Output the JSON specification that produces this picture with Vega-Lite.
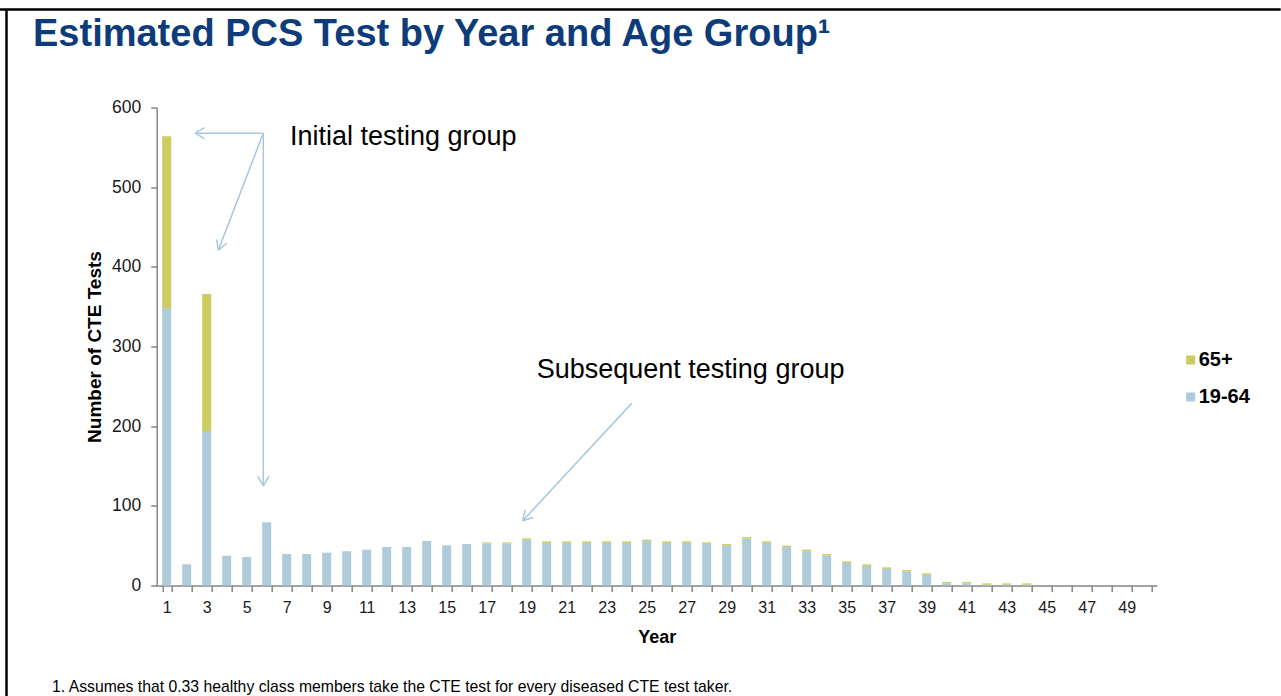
{
  "$schema": "https://vega.github.io/schema/vega-lite/v6.json",
  "width": 1000,
  "height": 478,
  "autosize": {"type": "none"},
  "padding": {"left": 156.7, "top": 107.5, "right": 124.3, "bottom": 110.5},
  "background": "white",
  "title": {
    "text": "Estimated PCS Test by Year and Age Group¹",
    "anchor": "start",
    "frame": "group",
    "dx": -123.7,
    "offset": -76,
    "baseline": "alphabetic",
    "font": "Liberation Sans",
    "fontSize": 38,
    "fontWeight": "bold",
    "color": "#0e3c7b"
  },
  "datasets": {
    "tests": [
      {"year": 1, "group": "19-64", "value": 348}, {"year": 1, "group": "65+", "value": 216},
      {"year": 2, "group": "19-64", "value": 26.6}, {"year": 2, "group": "65+", "value": 0},
      {"year": 3, "group": "19-64", "value": 194}, {"year": 3, "group": "65+", "value": 172},
      {"year": 4, "group": "19-64", "value": 37.4}, {"year": 4, "group": "65+", "value": 0},
      {"year": 5, "group": "19-64", "value": 35.8}, {"year": 5, "group": "65+", "value": 0},
      {"year": 6, "group": "19-64", "value": 79.3}, {"year": 6, "group": "65+", "value": 0},
      {"year": 7, "group": "19-64", "value": 39.5}, {"year": 7, "group": "65+", "value": 0},
      {"year": 8, "group": "19-64", "value": 39.5}, {"year": 8, "group": "65+", "value": 0},
      {"year": 9, "group": "19-64", "value": 41.2}, {"year": 9, "group": "65+", "value": 0},
      {"year": 10, "group": "19-64", "value": 43}, {"year": 10, "group": "65+", "value": 0},
      {"year": 11, "group": "19-64", "value": 44.9}, {"year": 11, "group": "65+", "value": 0},
      {"year": 12, "group": "19-64", "value": 48.3}, {"year": 12, "group": "65+", "value": 0},
      {"year": 13, "group": "19-64", "value": 48.3}, {"year": 13, "group": "65+", "value": 0},
      {"year": 14, "group": "19-64", "value": 55.8}, {"year": 14, "group": "65+", "value": 0},
      {"year": 15, "group": "19-64", "value": 50.4}, {"year": 15, "group": "65+", "value": 0},
      {"year": 16, "group": "19-64", "value": 52.1}, {"year": 16, "group": "65+", "value": 0},
      {"year": 17, "group": "19-64", "value": 52.6}, {"year": 17, "group": "65+", "value": 1.5},
      {"year": 18, "group": "19-64", "value": 52.6}, {"year": 18, "group": "65+", "value": 1.5},
      {"year": 19, "group": "19-64", "value": 57.3}, {"year": 19, "group": "65+", "value": 1.9},
      {"year": 20, "group": "19-64", "value": 53.5}, {"year": 20, "group": "65+", "value": 1.9},
      {"year": 21, "group": "19-64", "value": 53.5}, {"year": 21, "group": "65+", "value": 1.9},
      {"year": 22, "group": "19-64", "value": 53.5}, {"year": 22, "group": "65+", "value": 1.9},
      {"year": 23, "group": "19-64", "value": 53.5}, {"year": 23, "group": "65+", "value": 1.9},
      {"year": 24, "group": "19-64", "value": 53.5}, {"year": 24, "group": "65+", "value": 1.9},
      {"year": 25, "group": "19-64", "value": 55.6}, {"year": 25, "group": "65+", "value": 1.9},
      {"year": 26, "group": "19-64", "value": 53.5}, {"year": 26, "group": "65+", "value": 1.9},
      {"year": 27, "group": "19-64", "value": 53.5}, {"year": 27, "group": "65+", "value": 1.9},
      {"year": 28, "group": "19-64", "value": 52.2}, {"year": 28, "group": "65+", "value": 1.9},
      {"year": 29, "group": "19-64", "value": 50.2}, {"year": 29, "group": "65+", "value": 1.9},
      {"year": 30, "group": "19-64", "value": 58.9}, {"year": 30, "group": "65+", "value": 1.9},
      {"year": 31, "group": "19-64", "value": 53.5}, {"year": 31, "group": "65+", "value": 1.9},
      {"year": 32, "group": "19-64", "value": 48.1}, {"year": 32, "group": "65+", "value": 1.9},
      {"year": 33, "group": "19-64", "value": 43.1}, {"year": 33, "group": "65+", "value": 1.9},
      {"year": 34, "group": "19-64", "value": 37.6}, {"year": 34, "group": "65+", "value": 1.9},
      {"year": 35, "group": "19-64", "value": 28.4}, {"year": 35, "group": "65+", "value": 1.9},
      {"year": 36, "group": "19-64", "value": 24.6}, {"year": 36, "group": "65+", "value": 1.9},
      {"year": 37, "group": "19-64", "value": 20.9}, {"year": 37, "group": "65+", "value": 1.9},
      {"year": 38, "group": "19-64", "value": 17.5}, {"year": 38, "group": "65+", "value": 1.9},
      {"year": 39, "group": "19-64", "value": 13.3}, {"year": 39, "group": "65+", "value": 1.9},
      {"year": 40, "group": "19-64", "value": 2.5}, {"year": 40, "group": "65+", "value": 1.9},
      {"year": 41, "group": "19-64", "value": 2.5}, {"year": 41, "group": "65+", "value": 1.9},
      {"year": 42, "group": "19-64", "value": 0.8}, {"year": 42, "group": "65+", "value": 1.9},
      {"year": 43, "group": "19-64", "value": 0.8}, {"year": 43, "group": "65+", "value": 1.9},
      {"year": 44, "group": "19-64", "value": 0.8}, {"year": 44, "group": "65+", "value": 1.9},
      {"year": 45, "group": "19-64", "value": 0}, {"year": 45, "group": "65+", "value": 0},
      {"year": 46, "group": "19-64", "value": 0}, {"year": 46, "group": "65+", "value": 0},
      {"year": 47, "group": "19-64", "value": 0}, {"year": 47, "group": "65+", "value": 0},
      {"year": 48, "group": "19-64", "value": 0}, {"year": 48, "group": "65+", "value": 0},
      {"year": 49, "group": "19-64", "value": 0}, {"year": 49, "group": "65+", "value": 0},
      {"year": 50, "group": "19-64", "value": 0}, {"year": 50, "group": "65+", "value": 0}
    ],
    "arrows": [
      {"x": 5.83, "y": 567.8, "x2": 2.415, "y2": 567.8},
      {"x": 2.415, "y": 567.8, "x2": 2.89, "y2": 574.7},
      {"x": 2.415, "y": 567.8, "x2": 2.89, "y2": 561.0},
      {"x": 5.83, "y": 567.8, "x2": 3.58, "y2": 420.9},
      {"x": 3.58, "y": 420.9, "x2": 4.01, "y2": 429.6},
      {"x": 3.58, "y": 420.9, "x2": 3.495, "y2": 434.6},
      {"x": 5.83, "y": 567.8, "x2": 5.83, "y2": 125.2},
      {"x": 5.83, "y": 125.2, "x2": 5.555, "y2": 137.1},
      {"x": 5.83, "y": 125.2, "x2": 6.105, "y2": 137.1},
      {"x": 24.25, "y": 228.6, "x2": 18.8, "y2": 81.3},
      {"x": 18.8, "y": 81.3, "x2": 19.325, "y2": 85.3},
      {"x": 18.8, "y": 81.3, "x2": 18.92, "y2": 94.7}
    ],
    "frame": [
      {"x": -7.34, "y": 723, "x2": 56.7, "y2": 723},
      {"x": -7.01, "y": 723, "x2": -7.01, "y2": -139}
    ],
    "labels": [
      {"x": 7.165, "y": 552.7, "text": "Initial testing group"},
      {"x": 19.5, "y": 260, "text": "Subsequent testing group"}
    ],
    "note": [
      {"x": -4.735, "y": -134.3, "text": "1. Assumes that 0.33 healthy class members take the CTE test for every diseased CTE test taker."}
    ]
  },
  "layer": [
    {
      "data": {"name": "tests"},
      "mark": {"type": "bar"},
      "encoding": {
        "x": {
          "field": "year",
          "type": "ordinal",
          "scale": {"paddingInner": 0.55, "paddingOuter": 0.275},
          "axis": {
            "title": "Year",
            "labelAngle": 0,
            "labelExpr": "datum.value % 2 == 1 ? datum.label : ''",
            "tickBand": "extent",
            "tickSize": 6,
            "tickColor": "#868686",
            "domainColor": "#868686",
            "domainWidth": 1.5,
            "tickWidth": 1.5,
            "labelFont": "Liberation Sans",
            "labelFontSize": 16,
            "labelColor": "#1a1a1a",
            "labelPadding": 8,
            "titleFont": "Liberation Sans",
            "titleFontSize": 18,
            "titleFontWeight": "bold",
            "titleColor": "#000000",
            "titlePadding": 13
          }
        },
        "y": {
          "field": "value",
          "type": "quantitative",
          "stack": "zero",
          "scale": {"domain": [0, 600], "nice": false},
          "axis": {
            "title": "Number of CTE Tests",
            "values": [0, 100, 200, 300, 400, 500, 600],
            "grid": false,
            "tickSize": 6,
            "tickColor": "#868686",
            "domainColor": "#868686",
            "domainWidth": 1.5,
            "tickWidth": 1.5,
            "labelFont": "Liberation Sans",
            "labelFontSize": 17.5,
            "labelColor": "#1a1a1a",
            "labelPadding": 10,
            "titleFont": "Liberation Sans",
            "titleFontSize": 19,
            "titleFontWeight": "bold",
            "titleColor": "#000000",
            "titlePadding": 7
          }
        },
        "color": {
          "field": "group",
          "type": "nominal",
          "scale": {"domain": ["65+", "19-64"], "range": ["#cccc60", "#aecbd9"]},
          "legend": {
            "orient": "none",
            "legendX": 1024,
            "legendY": 242.5,
            "title": null,
            "symbolType": "square",
            "symbolSize": 81,
            "symbolStrokeWidth": 0,
            "labelFont": "Liberation Sans",
            "labelFontSize": 20,
            "labelFontWeight": "bold",
            "labelColor": "#000000",
            "labelOffset": -2,
            "rowPadding": 17,
            "padding": 0
          }
        },
        "order": {"field": "group", "sort": "ascending"}
      }
    },
    {
      "data": {"name": "arrows"},
      "mark": {"type": "rule", "color": "#a8c8dc", "strokeWidth": 1.5},
      "encoding": {
        "x": {"field": "x", "type": "quantitative", "scale": {"domain": [0.5, 50.5], "nice": false, "zero": false}, "axis": null},
        "x2": {"field": "x2"},
        "y": {"field": "y", "type": "quantitative", "scale": {"domain": [0, 600], "nice": false, "zero": false}, "axis": null},
        "y2": {"field": "y2"}
      }
    },
    {
      "data": {"name": "frame"},
      "mark": {"type": "rule", "color": "#000000", "strokeWidth": 2.5},
      "encoding": {
        "x": {"field": "x", "type": "quantitative", "scale": {"domain": [0.5, 50.5], "nice": false, "zero": false}, "axis": null},
        "x2": {"field": "x2"},
        "y": {"field": "y", "type": "quantitative", "scale": {"domain": [0, 600], "nice": false, "zero": false}, "axis": null},
        "y2": {"field": "y2"}
      }
    },
    {
      "data": {"name": "labels"},
      "mark": {"type": "text", "align": "left", "baseline": "alphabetic", "font": "Liberation Sans", "fontSize": 27, "color": "#000000"},
      "encoding": {
        "x": {"field": "x", "type": "quantitative", "scale": {"domain": [0.5, 50.5], "nice": false, "zero": false}, "axis": null},
        "y": {"field": "y", "type": "quantitative", "scale": {"domain": [0, 600], "nice": false, "zero": false}, "axis": null},
        "text": {"field": "text"}
      }
    },
    {
      "data": {"name": "note"},
      "mark": {"type": "text", "align": "left", "baseline": "alphabetic", "font": "Liberation Sans", "fontSize": 15.75, "color": "#000000"},
      "encoding": {
        "x": {"field": "x", "type": "quantitative", "scale": {"domain": [0.5, 50.5], "nice": false, "zero": false}, "axis": null},
        "y": {"field": "y", "type": "quantitative", "scale": {"domain": [0, 600], "nice": false, "zero": false}, "axis": null},
        "text": {"field": "text"}
      }
    }
  ],
  "resolve": {"scale": {"x": "independent", "y": "independent"}},
  "config": {
    "view": {"stroke": null},
    "font": "Liberation Sans"
  }
}
